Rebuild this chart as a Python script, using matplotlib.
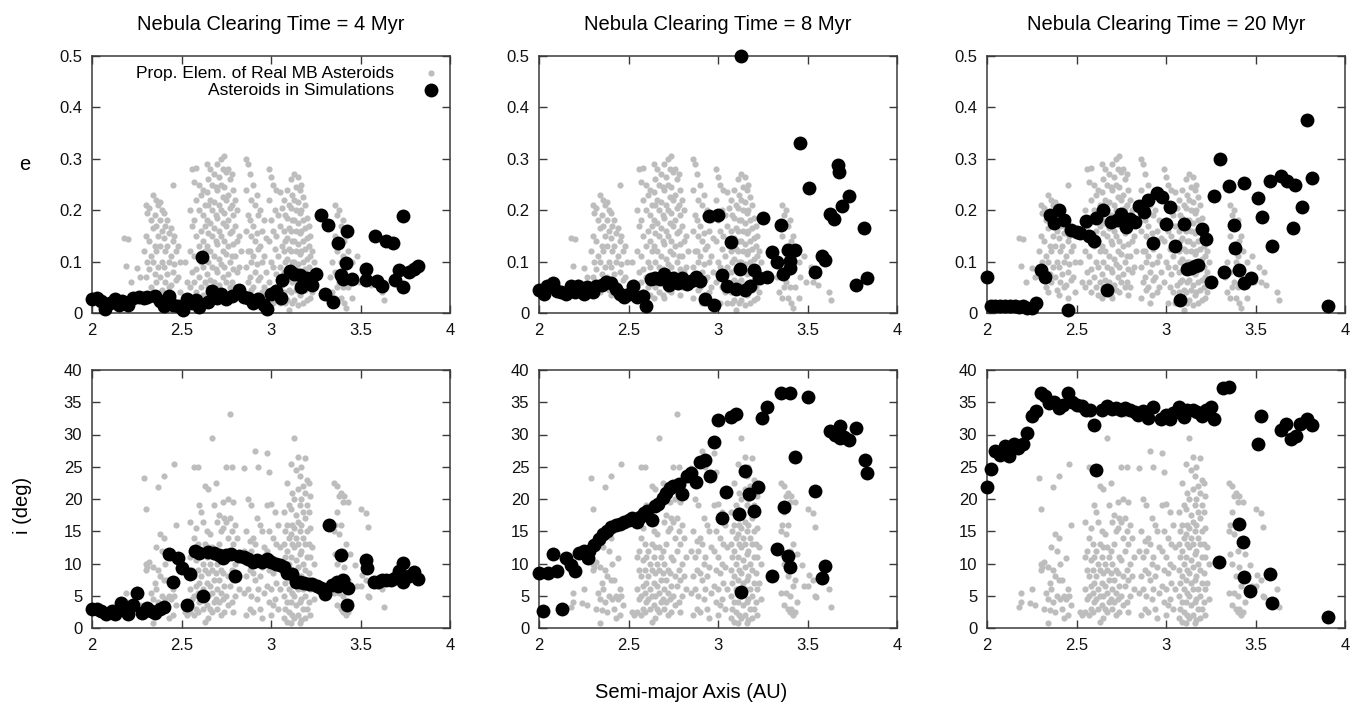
import numpy as np
import matplotlib
matplotlib.use("Agg")
import matplotlib.pyplot as plt

plt.rcParams['font.family'] = ['Liberation Sans', 'DejaVu Sans']

titles = ["Nebula Clearing Time = 4 Myr", "Nebula Clearing Time = 8 Myr", "Nebula Clearing Time = 20 Myr"]
xticks = [2, 2.5, 3, 3.5, 4]
xticklabels = ["2", "2.5", "3", "3.5", "4"]
eticks = [0, 0.1, 0.2, 0.3, 0.4, 0.5]
eticklabels = ["0", "0.1", "0.2", "0.3", "0.4", "0.5"]
iticks = [0, 5, 10, 15, 20, 25, 30, 35, 40]
legend_labels = ["Prop. Elem. of Real MB Asteroids", "Asteroids in Simulations"]

# --- real main-belt asteroids: (a, e)
gray_ae = np.array([
 (2.20,.143),(2.19,.092),(2.25,.088),(2.27,.071),(2.22,.060),(2.18,.145),
 (2.30,.210),(2.31,.195),(2.30,.150),(2.29,.120),(2.31,.100),(2.30,.070),
 (2.32,.205),(2.33,.180),(2.32,.140),(2.33,.110),(2.32,.085),(2.33,.050),
 (2.34,.230),(2.35,.190),(2.34,.165),(2.35,.130),(2.34,.100),(2.35,.075),(2.34,.040),
 (2.36,.220),(2.37,.210),(2.36,.170),(2.37,.150),(2.36,.120),(2.37,.090),(2.36,.060),
 (2.38,.215),(2.39,.200),(2.38,.180),(2.39,.160),(2.38,.130),(2.39,.100),(2.38,.070),(2.39,.045),
 (2.40,.195),(2.41,.170),(2.40,.145),(2.41,.120),(2.40,.090),(2.41,.060),(2.40,.035),
 (2.42,.180),(2.43,.155),(2.42,.130),(2.43,.100),(2.42,.075),(2.43,.050),
 (2.45,.250),(2.44,.165),(2.45,.140),(2.44,.110),(2.45,.080),(2.44,.055),(2.45,.030),
 (2.46,.150),(2.47,.120),(2.46,.095),(2.47,.065),
 (2.48,.130),(2.49,.100),(2.48,.070),(2.49,.040),
 (2.52,.100),(2.53,.060),
 (2.56,.280),(2.55,.200),(2.56,.170),(2.55,.120),(2.56,.080),(2.55,.050),
 (2.58,.282),(2.57,.255),(2.58,.220),(2.57,.180),(2.58,.150),(2.57,.110),(2.58,.085),(2.57,.060),(2.58,.040),
 (2.60,.250),(2.61,.230),(2.60,.200),(2.61,.160),(2.60,.130),(2.61,.100),(2.60,.070),(2.61,.050),
 (2.62,.240),(2.63,.210),(2.62,.190),(2.63,.170),(2.62,.140),(2.63,.120),(2.62,.090),(2.63,.060),(2.62,.035),
 (2.64,.290),(2.65,.260),(2.64,.235),(2.65,.210),(2.64,.180),(2.65,.155),(2.64,.130),(2.65,.100),(2.64,.075),(2.65,.050),(2.64,.030),
 (2.66,.280),(2.67,.250),(2.66,.220),(2.67,.200),(2.66,.175),(2.67,.150),(2.66,.120),(2.67,.090),(2.66,.065),(2.67,.040),
 (2.68,.270),(2.69,.245),(2.68,.215),(2.69,.190),(2.68,.165),(2.69,.140),(2.68,.110),(2.69,.085),(2.68,.060),(2.69,.035),
 (2.70,.290),(2.71,.265),(2.70,.240),(2.71,.210),(2.70,.185),(2.71,.160),(2.70,.135),(2.71,.105),(2.70,.080),(2.71,.055),(2.70,.030),
 (2.72,.300),(2.73,.280),(2.72,.250),(2.73,.225),(2.72,.200),(2.73,.175),(2.72,.150),(2.73,.120),(2.72,.095),(2.73,.070),(2.72,.045),
 (2.74,.305),(2.75,.275),(2.74,.245),(2.75,.220),(2.74,.195),(2.75,.170),(2.74,.140),(2.75,.115),(2.74,.090),(2.75,.060),(2.74,.040),
 (2.76,.280),(2.77,.260),(2.76,.230),(2.77,.205),(2.76,.180),(2.77,.155),(2.76,.130),(2.77,.100),(2.76,.075),(2.77,.050),
 (2.78,.270),(2.79,.240),(2.78,.210),(2.79,.190),(2.78,.160),(2.79,.135),(2.78,.110),(2.79,.085),(2.78,.060),(2.79,.035),
 (2.80,.220),(2.81,.200),(2.80,.170),(2.81,.140),(2.80,.110),(2.81,.080),(2.80,.050),
 (2.82,.150),(2.83,.120),(2.82,.090),
 (2.86,.300),(2.87,.290),(2.86,.240),(2.87,.190),(2.86,.160),(2.87,.120),(2.86,.090),(2.87,.060),(2.86,.030),
 (2.88,.270),(2.89,.220),(2.88,.180),(2.89,.150),(2.88,.120),(2.89,.100),(2.88,.070),(2.89,.045),
 (2.90,.250),(2.91,.210),(2.90,.170),(2.91,.140),(2.90,.110),(2.91,.080),(2.90,.050),(2.91,.020),
 (2.92,.230),(2.93,.190),(2.92,.155),(2.93,.125),(2.92,.095),(2.93,.065),(2.92,.035),
 (2.94,.200),(2.95,.160),(2.94,.130),(2.95,.100),(2.94,.070),(2.95,.040),
 (2.96,.180),(2.97,.145),(2.96,.110),(2.97,.080),(2.96,.050),
 (2.99,.280),(3.00,.265),(2.99,.220),(3.00,.180),(2.99,.140),(3.00,.100),(2.99,.060),
 (3.01,.250),(3.02,.200),(3.01,.160),(3.02,.125),(3.01,.090),(3.02,.050),(3.01,.020),
 (3.03,.240),(3.04,.190),(3.03,.150),(3.04,.110),(3.03,.075),(3.04,.040),
 (3.05,.235),(3.06,.205),(3.05,.170),(3.06,.130),(3.05,.090),(3.06,.055),(3.05,.020),
 (3.07,.220),(3.08,.190),(3.07,.160),(3.08,.140),(3.07,.120),(3.08,.100),(3.07,.080),(3.08,.060),(3.07,.040),(3.08,.020),
 (3.09,.240),(3.10,.210),(3.09,.185),(3.10,.165),(3.09,.145),(3.10,.125),(3.09,.105),(3.10,.085),(3.09,.065),(3.10,.045),(3.09,.025),(3.10,.005),
 (3.11,.260),(3.12,.230),(3.11,.205),(3.12,.180),(3.11,.160),(3.12,.140),(3.11,.120),(3.12,.100),(3.11,.080),(3.12,.060),(3.11,.040),(3.12,.020),
 (3.13,.270),(3.14,.245),(3.13,.220),(3.14,.200),(3.13,.180),(3.14,.160),(3.13,.140),(3.14,.120),(3.13,.100),(3.14,.085),(3.13,.065),(3.14,.045),(3.13,.025),
 (3.15,.265),(3.16,.240),(3.15,.215),(3.16,.195),(3.15,.175),(3.16,.155),(3.15,.135),(3.16,.115),(3.15,.095),(3.16,.075),(3.15,.055),(3.16,.035),(3.15,.015),
 (3.17,.250),(3.18,.225),(3.17,.200),(3.18,.180),(3.17,.160),(3.18,.140),(3.17,.120),(3.18,.100),(3.17,.080),(3.18,.060),(3.17,.040),(3.18,.020),
 (3.19,.210),(3.20,.185),(3.19,.165),(3.20,.145),(3.19,.125),(3.20,.105),(3.19,.085),(3.20,.065),(3.19,.045),(3.20,.025),
 (3.21,.170),(3.22,.150),(3.21,.130),(3.22,.110),(3.21,.090),(3.22,.070),(3.21,.050),(3.22,.030),
 (3.23,.120),(3.24,.100),(3.23,.080),(3.24,.060),(3.23,.040),
 (3.34,.100),(3.33,.070),(3.34,.040),
 (3.36,.210),(3.37,.190),(3.36,.150),(3.37,.120),(3.36,.080),(3.37,.050),(3.36,.030),
 (3.38,.200),(3.39,.170),(3.38,.130),(3.39,.100),(3.38,.060),(3.39,.030),
 (3.40,.180),(3.41,.140),(3.40,.110),(3.41,.080),(3.40,.050),(3.41,.020),
 (3.42,.150),(3.43,.120),(3.42,.090),(3.43,.050),(3.42,.010),
 (3.45,.100),(3.46,.070),(3.45,.030),
 (3.48,.110),(3.49,.060),(3.52,.090),(3.53,.060),(3.55,.080),(3.56,.055),
 (3.62,.040),(3.63,.025),
])

# --- real main-belt asteroids: (a, i in deg)
gray_ai = np.array([
 (2.19,5.5),(2.19,4.0),(2.18,3.2),(2.25,6.0),(2.24,3.8),(2.27,3.5),
 (2.30,10.0),(2.31,9.5),(2.30,9.0),(2.29,23.2),(2.30,18.4),
 (2.32,10.2),(2.33,5.5),(2.32,3.0),
 (2.34,9.5),(2.35,7.0),(2.34,4.5),(2.35,2.8),(2.34,0.7),
 (2.36,12.5),(2.37,9.0),(2.36,6.0),(2.37,4.0),(2.37,21.8),
 (2.38,14.5),(2.39,12.0),(2.38,8.0),(2.39,5.0),(2.38,2.5),
 (2.40,14.0),(2.41,10.0),(2.40,7.5),(2.41,4.5),(2.40,23.5),
 (2.42,7.5),(2.43,5.0),(2.42,3.0),(2.43,1.5),
 (2.44,10.8),(2.45,6.0),(2.44,4.5),(2.45,2.0),
 (2.46,25.5),(2.47,16.0),(2.46,5.0),(2.47,3.5),
 (2.52,2.5),(2.53,2.0),
 (2.55,16.5),(2.56,12.0),(2.55,11.0),(2.56,9.0),(2.55,6.0),(2.56,4.5),(2.55,2.5),
 (2.57,25.0),(2.58,15.5),(2.57,14.0),(2.58,10.5),(2.57,8.0),(2.58,6.5),(2.57,5.0),(2.58,3.0),(2.57,2.0),
 (2.59,25.0),(2.60,19.0),(2.59,13.0),(2.60,11.0),(2.59,9.0),(2.60,7.0),(2.59,5.5),(2.60,4.0),(2.59,2.5),
 (2.61,18.0),(2.62,16.5),(2.61,12.0),(2.62,10.0),(2.61,8.0),(2.62,6.0),(2.61,4.5),(2.62,3.0),
 (2.63,22.0),(2.64,15.0),(2.63,13.0),(2.64,11.0),(2.63,9.0),(2.64,7.0),(2.63,5.0),(2.64,3.5),(2.63,1.0),
 (2.65,21.5),(2.66,14.5),(2.65,12.5),(2.66,10.0),(2.65,8.5),(2.66,6.5),(2.65,5.0),(2.66,3.0),(2.65,1.5),
 (2.67,29.5),(2.68,19.0),(2.67,12.5),(2.68,11.0),(2.67,9.0),(2.68,7.5),(2.67,5.5),(2.68,4.0),(2.67,2.5),
 (2.69,22.5),(2.70,16.5),(2.69,12.0),(2.70,10.0),(2.69,8.5),(2.70,6.0),(2.69,4.5),(2.70,3.0),
 (2.71,17.5),(2.72,15.0),(2.71,13.0),(2.72,9.0),(2.71,7.5),(2.72,5.5),(2.71,4.0),(2.72,2.0),
 (2.73,19.5),(2.74,17.0),(2.73,15.5),(2.74,11.0),(2.73,8.5),(2.74,6.5),(2.73,4.5),(2.74,2.5),
 (2.75,25.0),(2.76,20.0),(2.75,16.5),(2.76,14.0),(2.75,10.5),(2.76,8.0),(2.75,5.0),(2.76,3.5),
 (2.77,33.2),(2.78,25.0),(2.77,17.0),(2.78,15.0),(2.77,12.0),(2.78,9.0),(2.77,6.5),(2.78,4.0),
 (2.79,19.5),(2.80,16.0),(2.79,13.0),(2.80,10.0),(2.79,7.5),(2.80,5.0),(2.79,2.5),
 (2.81,14.0),(2.82,11.0),(2.81,8.0),(2.82,6.0),
 (2.85,24.8),(2.86,15.0),(2.85,12.0),(2.86,8.0),(2.85,5.5),(2.86,2.0),
 (2.87,20.0),(2.88,13.5),(2.87,11.0),(2.88,9.0),(2.87,6.0),(2.88,3.0),
 (2.89,19.0),(2.90,14.0),(2.89,12.0),(2.90,8.5),(2.89,5.0),(2.90,2.5),
 (2.91,27.5),(2.92,17.0),(2.91,13.0),(2.92,10.0),(2.91,7.5),(2.92,4.5),
 (2.93,25.0),(2.94,16.0),(2.93,11.0),(2.94,8.0),(2.93,6.0),(2.94,3.0),
 (2.95,15.0),(2.96,12.5),(2.95,9.5),(2.96,5.5),(2.95,1.5),
 (2.98,27.2),(2.99,24.2),(2.98,19.0),(2.99,15.0),(2.98,12.0),(2.99,9.0),(2.98,6.5),(2.99,4.0),
 (3.00,19.3),(3.01,14.0),(3.00,11.0),(3.01,8.5),(3.00,6.0),(3.01,3.5),(3.00,2.0),
 (3.02,18.0),(3.03,13.0),(3.02,10.0),(3.03,7.0),(3.02,4.5),
 (3.04,16.0),(3.05,12.5),(3.04,9.5),(3.05,6.0),(3.04,3.0),
 (3.07,18.0),(3.08,15.0),(3.07,13.0),(3.08,11.0),(3.07,9.0),(3.08,7.0),(3.07,5.0),(3.08,3.0),(3.07,1.5),
 (3.09,22.5),(3.10,19.0),(3.09,16.0),(3.10,14.0),(3.09,12.0),(3.10,10.0),(3.09,8.0),(3.10,6.0),(3.09,4.0),(3.10,2.5),(3.09,1.0),
 (3.11,25.5),(3.12,21.0),(3.11,18.5),(3.12,16.0),(3.11,14.5),(3.12,13.0),(3.11,11.0),(3.12,9.0),(3.11,7.5),(3.12,5.5),(3.11,4.0),(3.12,2.0),(3.11,0.7),
 (3.13,29.5),(3.14,24.5),(3.13,20.0),(3.14,17.5),(3.13,15.5),(3.14,14.0),(3.13,12.5),(3.14,10.5),(3.13,8.5),(3.14,7.0),(3.13,5.0),(3.14,3.5),(3.13,1.5),
 (3.15,26.5),(3.16,23.5),(3.15,21.5),(3.16,19.0),(3.15,16.5),(3.16,15.0),(3.15,13.0),(3.16,11.5),(3.15,9.5),(3.16,7.5),(3.15,6.0),(3.16,4.0),(3.15,2.0),(3.16,0.8),
 (3.17,25.0),(3.18,22.0),(3.17,20.0),(3.18,18.0),(3.17,16.0),(3.18,14.0),(3.17,12.0),(3.18,10.0),(3.17,8.0),(3.18,6.0),(3.17,4.5),(3.18,3.0),(3.17,1.2),
 (3.19,26.3),(3.20,23.0),(3.19,21.0),(3.20,19.0),(3.19,17.0),(3.20,15.0),(3.19,13.0),(3.20,11.0),(3.19,9.0),(3.20,7.0),(3.19,5.0),(3.20,3.0),(3.19,1.5),
 (3.21,22.5),(3.22,20.5),(3.21,18.0),(3.22,15.5),(3.21,13.0),(3.22,11.0),(3.21,8.5),(3.22,6.0),(3.21,4.0),(3.22,2.0),
 (3.23,12.5),(3.24,10.0),(3.23,7.0),(3.24,4.5),
 (3.35,22.5),(3.36,16.0),(3.35,15.0),(3.36,11.5),(3.35,5.5),
 (3.37,22.0),(3.38,20.5),(3.37,18.0),(3.38,14.5),(3.37,10.0),(3.38,5.5),(3.37,3.5),
 (3.39,21.0),(3.40,19.5),(3.39,16.0),(3.40,12.0),(3.39,8.0),(3.40,5.0),(3.39,3.0),(3.40,2.5),
 (3.41,20.5),(3.42,13.0),(3.41,9.5),(3.42,6.5),(3.41,3.0),(3.42,2.0),
 (3.43,19.5),(3.44,11.5),(3.43,7.5),(3.44,4.0),(3.43,2.5),
 (3.47,9.8),(3.48,6.5),(3.50,18.5),(3.51,8.2),(3.50,6.5),
 (3.53,17.8),(3.54,15.6),(3.53,7.5),(3.54,5.0),(3.55,4.8),
 (3.62,6.0),(3.63,3.3),
])

# --- simulated asteroids, 4 Myr
sim4_a_e = [2.0,2.026,2.05,2.07,2.1,2.13,2.15,2.17,2.2,2.23,2.26,2.29,2.31,2.35,2.38,2.40,2.43,2.45,2.48,2.51,
            2.53,2.56,2.58,2.60,2.617,2.65,2.67,2.70,2.72,2.75,2.78,2.82,2.85,2.87,2.9,2.93,2.96,2.975,3.0,3.03,
            3.055,3.06,3.105,3.13,3.16,3.17,3.20,3.23,3.25,3.28,3.3,3.32,3.345,3.376,3.39,3.40,3.427,3.42,3.45,3.53,
            3.53,3.58,3.59,3.62,3.64,3.68,3.69,3.715,3.74,3.74,3.77,3.80,3.82]
sim4_e = [.028,.029,.024,.008,.02,.028,.016,.023,.016,.03,.032,.029,.032,.034,.023,.013,.034,.016,.013,.006,
          .028,.019,.026,.012,.108,.021,.043,.029,.036,.028,.034,.044,.032,.029,.019,.028,.016,.008,.036,.042,
          .03,.065,.081,.076,.073,.05,.068,.054,.076,.19,.036,.172,.021,.136,.074,.066,.16,.098,.066,.085,
          .065,.149,.062,.053,.14,.137,.065,.084,.189,.05,.079,.085,.091]
sim4_a_i = [2.0,2.03,2.05,2.08,2.11,2.13,2.16,2.18,2.2,2.23,2.25,2.28,2.31,2.33,2.35,2.38,2.40,2.43,2.45,2.48,
            2.5,2.53,2.55,2.575,2.6,2.62,2.65,2.68,2.71,2.73,2.75,2.775,2.8,2.82,2.85,2.87,2.9,2.92,2.95,2.975,
            3.0,3.03,3.05,3.07,3.09,3.115,3.14,3.16,3.185,3.21,3.23,3.255,3.28,3.3,3.325,3.34,3.37,3.375,3.39,3.40,
            3.43,3.425,3.53,3.535,3.575,3.6,3.62,3.645,3.67,3.69,3.715,3.74,3.74,3.77,3.80,3.82]
sim4_i = [3.0,3.0,2.6,2.1,2.7,2.1,3.9,2.8,2.1,3.5,5.5,2.4,3.1,2.7,2.3,3.0,3.3,11.5,7.1,10.8,
          9.3,3.6,8.3,12.0,11.7,5.0,11.8,11.6,11.3,10.9,11.3,11.4,8.1,11.1,11.0,10.7,10.3,10.6,10.2,10.7,
          10.3,10.0,9.7,9.5,8.5,8.4,7.2,7.1,6.9,6.8,6.8,6.5,6.2,5.3,16.0,6.7,7.1,6.5,11.3,7.5,
          6.2,3.5,10.6,9.3,7.1,7.2,7.5,7.5,7.4,7.7,8.8,7.1,10.1,8.1,8.7,7.6]

# --- simulated asteroids, 8 Myr
sim8_a_e = [2.0,2.03,2.045,2.08,2.1,2.125,2.15,2.18,2.2,2.22,2.25,2.27,2.3,2.32,2.35,2.375,2.4,2.43,2.45,2.475,
            2.5,2.525,2.55,2.58,2.6,2.625,2.65,2.675,2.70,2.725,2.75,2.775,2.8,2.825,2.85,2.875,2.9,2.925,2.95,2.975,
            3.0,3.025,3.05,3.075,3.1,3.125,3.13,3.15,3.18,3.2,3.23,3.25,3.275,3.3,3.33,3.35,3.365,3.39,3.4,3.4,
            3.43,3.46,3.51,3.54,3.58,3.6,3.625,3.65,3.67,3.675,3.69,3.73,3.77,3.815,3.83]
sim8_e = [.044,.036,.053,.058,.043,.04,.036,.053,.04,.053,.036,.05,.04,.053,.055,.06,.058,.047,.036,.032,
          .036,.052,.032,.034,.014,.067,.069,.067,.076,.055,.068,.058,.068,.057,.063,.071,.063,.028,.189,.015,
          .191,.074,.053,.139,.047,.086,.5,.045,.053,.083,.068,.185,.071,.118,.100,.172,.076,.122,.102,.087,
          .122,.33,.243,.079,.111,.104,.192,.183,.288,.275,.209,.227,.055,.165,.068]
sim8_a_i = [2.0,2.025,2.05,2.08,2.1,2.13,2.15,2.18,2.2,2.225,2.25,2.275,2.28,2.31,2.335,2.36,2.38,2.405,2.43,2.45,
            2.475,2.5,2.52,2.545,2.565,2.585,2.605,2.63,2.65,2.665,2.69,2.71,2.73,2.75,2.78,2.80,2.825,2.85,2.875,2.9,
            2.925,2.955,2.98,3.0,3.025,3.045,3.075,3.1,3.12,3.13,3.15,3.175,3.2,3.225,3.245,3.275,3.3,3.33,3.35,3.37,
            3.39,3.4,3.405,3.43,3.505,3.54,3.58,3.6,3.625,3.655,3.68,3.68,3.705,3.73,3.77,3.82,3.83]
sim8_i = [8.5,2.7,8.5,11.5,8.9,3.0,10.8,9.8,8.9,11.7,11.9,10.8,11.9,12.8,13.8,14.5,15.1,15.6,15.9,16.2,
          16.4,16.7,17.1,16.5,17.2,17.9,18.2,16.8,18.9,19.2,20.1,20.9,21.7,22.0,22.3,20.8,23.6,24.1,22.7,25.8,
          26.1,23.6,28.9,32.2,17.0,21.1,32.7,33.2,17.7,5.6,24.4,20.8,18.2,21.8,32.6,34.2,8.1,12.2,36.5,18.7,
          11.1,36.5,9.5,26.5,35.8,21.3,7.7,9.6,30.5,30.0,31.3,29.4,29.6,29.2,31.0,26.0,24.0]

# --- simulated asteroids, 20 Myr
sim20_a_e = [2.0,2.02,2.045,2.075,2.10,2.13,2.155,2.18,2.2,2.225,2.25,2.275,2.3,2.325,2.35,2.375,2.40,2.43,2.455,2.47,
             2.5,2.52,2.555,2.57,2.6,2.61,2.65,2.67,2.695,2.725,2.75,2.775,2.8,2.825,2.85,2.875,2.9,2.93,2.95,2.975,
             3.0,3.025,3.05,3.08,3.1,3.115,3.14,3.16,3.18,3.2,3.225,3.25,3.27,3.3,3.325,3.35,3.38,3.385,3.41,3.435,
             3.435,3.475,3.515,3.535,3.58,3.59,3.64,3.675,3.71,3.72,3.76,3.79,3.815,3.905]
sim20_e = [.071,.014,.013,.013,.013,.013,.014,.012,.014,.01,.01,.019,.083,.071,.19,.176,.2,.18,.006,.161,
           .157,.155,.179,.15,.141,.185,.2,.044,.178,.18,.192,.168,.183,.178,.209,.196,.219,.136,.234,.225,
           .173,.206,.131,.026,.173,.085,.087,.091,.093,.163,.144,.06,.228,.299,.079,.248,.172,.126,.083,.253,
           .058,.068,.223,.186,.256,.131,.267,.256,.165,.249,.206,.376,.262,.014]
sim20_a_i = [2.0,2.025,2.045,2.07,2.1,2.125,2.15,2.175,2.2,2.225,2.25,2.275,2.3,2.325,2.345,2.375,2.4,2.425,2.45,2.475,
             2.5,2.53,2.555,2.575,2.6,2.61,2.64,2.67,2.70,2.72,2.75,2.77,2.8,2.825,2.845,2.87,2.9,2.925,2.97,3.0,
             3.02,3.04,3.075,3.1,3.12,3.15,3.175,3.2,3.225,3.25,3.27,3.295,3.32,3.35,3.41,3.43,3.435,3.47,3.515,3.53,
             3.58,3.59,3.645,3.67,3.70,3.725,3.75,3.79,3.815,3.905]
sim20_i = [21.8,24.7,27.4,26.8,28.2,26.6,28.5,27.9,28.5,30.3,32.8,33.7,36.4,35.9,34.9,35.1,34.1,34.6,36.5,35.1,
           34.6,34.4,33.8,33.8,31.4,24.5,33.8,34.4,33.9,34.1,33.8,34.1,33.8,33.5,33.0,33.7,32.5,34.2,32.4,33.0,
           32.4,33.3,34.3,32.7,33.8,33.8,33.5,32.8,33.8,34.2,32.4,10.2,37.2,37.4,16.2,13.3,7.9,5.8,28.6,32.9,
           8.4,3.8,30.7,31.7,29.3,29.7,31.6,32.4,31.5,1.7]

sim_e = [(sim4_a_e, sim4_e), (sim8_a_e, sim8_e), (sim20_a_e, sim20_e)]
sim_i = [(sim4_a_i, sim4_i), (sim8_a_i, sim8_i), (sim20_a_i, sim20_i)]

W, H = 1363, 707
fig = plt.figure(figsize=(W / 100, H / 100), dpi=100)
lefts = [92, 539, 987]
axw = 358
top_row = (56, 313)
bot_row = (370, 628)

GRAY = '#bdbdbd'
S_GRAY = 20
S_BLACK = 100
SPINE = '#3a3a3a'

def style(ax):
    for sp in ax.spines.values():
        sp.set_color(SPINE)
        sp.set_linewidth(1.1)
    ax.tick_params(direction='in', length=6, width=1.0, color=SPINE, top=True, right=True,
                   labelsize=12, pad=7, labelcolor='#111111')
    ax.set_xlim(2, 4)
    ax.set_xticks(xticks)
    ax.set_xticklabels(xticklabels)

for k in range(3):
    x0 = lefts[k]
    axe = fig.add_axes([x0 / W, 1 - top_row[1] / H, axw / W, (top_row[1] - top_row[0]) / H])
    axi = fig.add_axes([x0 / W, 1 - bot_row[1] / H, axw / W, (bot_row[1] - bot_row[0]) / H])
    g1 = axe.scatter(gray_ae[:, 0], gray_ae[:, 1], s=S_GRAY, c=GRAY, linewidths=0, zorder=2, clip_on=False)
    b1 = axe.scatter(sim_e[k][0], sim_e[k][1], s=S_BLACK, c='black', linewidths=0, zorder=3, clip_on=False)
    axi.scatter(gray_ai[:, 0], gray_ai[:, 1], s=S_GRAY, c=GRAY, linewidths=0, zorder=2, clip_on=False)
    axi.scatter(sim_i[k][0], sim_i[k][1], s=S_BLACK, c='black', linewidths=0, zorder=3, clip_on=False)
    style(axe)
    style(axi)
    axe.set_ylim(0, 0.5)
    axe.set_yticks(eticks)
    axe.set_yticklabels(eticklabels)
    axi.set_ylim(0, 40)
    axi.set_yticks(iticks)
    axe.set_title(titles[k], fontsize=14.5, pad=19)
    if k == 0:
        axe.legend([g1, b1], legend_labels, loc='upper right', bbox_to_anchor=(0.98, 0.975),
                   frameon=False, markerfirst=False, fontsize=12.5, labelspacing=0.1,
                   handletextpad=1.6, borderaxespad=0.0, borderpad=0.2, handlelength=1.0,
                   scatterpoints=1)

fig.text(25 / W, 1 - 165 / H, "e", fontsize=14.5, ha='center', va='center')
fig.text(22 / W, 1 - 505 / H, "i (deg)", fontsize=14.5, ha='center', va='center', rotation=90)
fig.text(691 / W, 1 - 693 / H, "Semi-major Axis (AU)", fontsize=14.5, ha='center', va='center')

fig.savefig("out.png", dpi=100, facecolor='white')
